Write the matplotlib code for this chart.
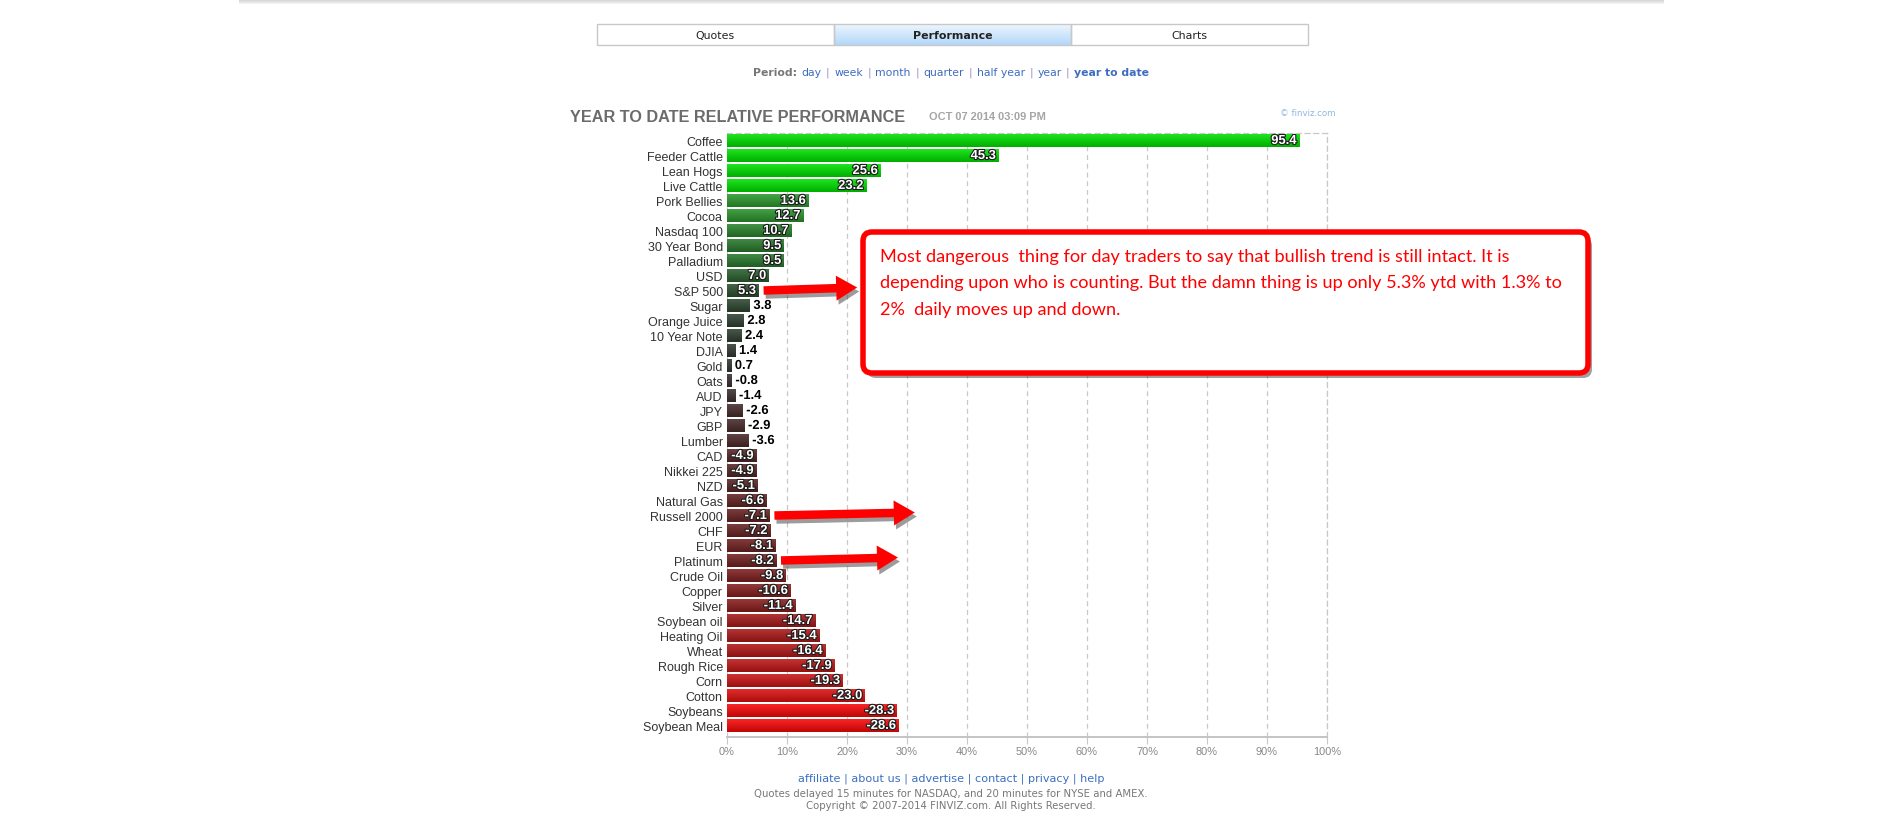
import numpy as np
import matplotlib
matplotlib.use('Agg')
import matplotlib.pyplot as plt
import matplotlib.patheffects as pe
from matplotlib.colors import to_rgb
from matplotlib.patches import Rectangle, FancyBboxPatch, FancyArrow

# ---- data ----
names = ['Coffee', 'Feeder Cattle', 'Lean Hogs', 'Live Cattle', 'Pork Bellies', 'Cocoa',
         'Nasdaq 100', '30 Year Bond', 'Palladium', 'USD', 'S&P 500', 'Sugar',
         'Orange Juice', '10 Year Note', 'DJIA', 'Gold', 'Oats', 'AUD', 'JPY', 'GBP',
         'Lumber', 'CAD', 'Nikkei 225', 'NZD', 'Natural Gas', 'Russell 2000', 'CHF',
         'EUR', 'Platinum', 'Crude Oil', 'Copper', 'Silver', 'Soybean oil',
         'Heating Oil', 'Wheat', 'Rough Rice', 'Corn', 'Cotton', 'Soybeans',
         'Soybean Meal']
values = [95.4, 45.3, 25.6, 23.2, 13.6, 12.7, 10.7, 9.5, 9.5, 7.0, 5.3, 3.8, 2.8, 2.4,
          1.4, 0.7, -0.8, -1.4, -2.6, -2.9, -3.6, -4.9, -4.9, -5.1, -6.6, -7.1, -7.2,
          -8.1, -8.2, -9.8, -10.6, -11.4, -14.7, -15.4, -16.4, -17.9, -19.3, -23.0,
          -28.3, -28.6]
tick_pcts = list(range(0, 101, 10))

tabs = ['Quotes', 'Performance', 'Charts']
periods = ['day', 'week', 'month', 'quarter', 'half year', 'year', 'year to date']
footer_links = ['affiliate', 'about us', 'advertise', 'contact', 'privacy', 'help']

note_lines = [
    'Most dangerous  thing for day traders to say that bullish trend is still intact. It is',
    'depending upon who is counting. But the damn thing is up only 5.3% ytd with 1.3% to',
    '2%  daily moves up and down.',
]
# (row name, where the arrow head points, in % of the axis)
arrows = [('S&P 500', 21.7), ('Russell 2000', 31.3), ('Platinum', 28.5)]

W, H, DPI = 1902, 820, 100
PX = 72.0 / DPI          # points per pixel

# colour scale used by finviz: red <- dark grey -> green
scale = [(-30, '#ff0505'), (-20, '#cf1414'), (-10, '#801e1e'), (-5, '#572525'),
         (0, '#333333'), (5, '#2c4c2f'), (10, '#287e2c'), (14, '#2c9c2e'),
         (22, '#00e000'), (100, '#00e000')]


def bar_color(v):
    xs = [s[0] for s in scale]
    rgb = np.array([to_rgb(s[1]) for s in scale])
    return tuple(np.interp(v, xs, rgb[:, k]) for k in range(3))


def shade(c, f):
    c = np.array(c)
    if f > 0:
        return c + (1 - c) * f
    return c * (1 + f)


fig = plt.figure(figsize=(W / DPI, H / DPI), dpi=DPI)
fig.patch.set_facecolor('white')
renderer = fig.canvas.get_renderer()

# ---- chart ----
X0, X1 = 727, 1327
Y0, Y1 = 134, 738
ROW = 15
ax = fig.add_axes([X0 / W, 1 - Y1 / H, (X1 - X0) / W, (Y1 - Y0) / H])

rows = np.arange(len(names)) + 0.5
mags = np.abs(values)
colors = [bar_color(v) for v in values]
bars = ax.barh(rows, mags, height=13 / 15, color=colors, zorder=3)

grad = np.linspace(0, 1, 32)[:, None, None]
for b, c in zip(bars, colors):
    top, bot = shade(c, 0.12), shade(c, -0.22)
    img = top * (1 - grad) + bot * grad
    x, y, w, h = b.get_x(), b.get_y(), b.get_width(), b.get_height()
    im = ax.imshow(img, extent=[x, x + w, y + h, y], aspect='auto',
                   interpolation='bilinear', zorder=3.5)
    im.set_clip_path(b)

for r, v, m in zip(rows, values, mags):
    lab = f'{v:.1f}'
    if m >= 4.5:
        ax.text(m - 0.45, r + 0.03, lab, ha='right', va='center', color='white',
                fontsize=13 * PX, fontweight='bold', family='Liberation Sans', zorder=5,
                path_effects=[pe.withStroke(linewidth=1.6, foreground='#1c1c1c')])
    else:
        ax.text(m + 0.6, r + 0.03, lab, ha='left', va='center', color='black',
                fontsize=13 * PX, fontweight='bold', family='Liberation Sans', zorder=5,
                path_effects=[pe.withStroke(linewidth=2, foreground='white')])

ax.set_xlim(0, 100)
ax.set_ylim((Y1 - Y0) / ROW, 0)
ax.set_xticks(tick_pcts, [f'{t}%' for t in tick_pcts])
ax.set_yticks(rows, names)
ax.grid(axis='x', color='#c8c8c8', linestyle=(0, (4, 3)), linewidth=0.9)
ax.set_axisbelow(True)
ax.spines['left'].set_visible(False)
ax.spines['bottom'].set_color('#c4c4c4')
ax.spines['bottom'].set_linewidth(1.4)
for s in ('top', 'right'):
    ax.spines[s].set_color('#c8c8c8')
    ax.spines[s].set_linestyle((0, (4, 3)))
    ax.spines[s].set_linewidth(0.9)
ax.tick_params(axis='x', length=5, color='#c8c8c8', labelcolor='#888888',
               labelsize=11 * PX, pad=1.5)
ax.tick_params(axis='y', length=0, labelcolor='#333333', labelsize=12.5 * PX, pad=3)
for t in ax.get_xticklabels() + ax.get_yticklabels():
    t.set_family('Liberation Sans')

# ---- page furniture, drawn in pixel space ----
ov = fig.add_axes([0, 0, 1, 1], zorder=5)
ov.axis('off')

hdr = np.linspace(0, 1, 8)[:, None, None]
ov.imshow(np.array(to_rgb('#cccccc')) * (1 - hdr) + np.array(to_rgb('#f4f4f4')) * hdr,
          extent=[239, 1664, 5, 0], aspect='auto', interpolation='bilinear')

tab_w = 237
for i, t in enumerate(tabs):
    tx = 597 + i * tab_w
    if t == 'Performance':
        g = np.linspace(0, 1, 16)[:, None, None]
        img = np.array(to_rgb('#edf5fe')) * (1 - g) + np.array(to_rgb('#b3d8fa')) * g
        ov.imshow(img, extent=[tx, tx + tab_w, 46, 25], aspect='auto', interpolation='bilinear')
    ov.add_patch(Rectangle((tx, 25), tab_w, 21, fc='none', ec='#c8c8c8', lw=1))
    ov.text(tx + tab_w / 2, 36, t, ha='center', va='center', color='#222222',
            fontsize=11 * PX, family='DejaVu Sans',
            fontweight='bold' if t == 'Performance' else 'normal')
ov.set_xlim(0, W)
ov.set_ylim(H, 0)


def draw_run(pieces, cx, y, size, gap):
    texts = [ov.text(0, y, s, color=c, fontweight=wt, fontsize=size,
                     family='DejaVu Sans', ha='left', va='center') for s, c, wt in pieces]
    widths = [t.get_window_extent(renderer).width for t in texts]
    x = cx - (sum(widths) + gap * (len(widths) - 1)) / 2
    for t, w in zip(texts, widths):
        t.set_x(x)
        x += w + gap


run = [('Period:', '#777777', 'bold')]
for j, p in enumerate(periods):
    if j:
        run.append(('|', '#9a8fc8', 'normal'))
    run.append((p, '#3e6dc0', 'bold' if p == 'year to date' else 'normal'))
draw_run(run, 951, 73, 10.9 * PX, 4.5)

ov.text(570, 118, 'YEAR TO DATE RELATIVE PERFORMANCE', ha='left', va='center',
        color='#6b6b6b', fontsize=16.3 * PX, fontweight='bold', family='Liberation Sans')
ov.text(929, 117, 'OCT 07 2014 03:09 PM', ha='left', va='center', color='#a5a5a5',
        fontsize=11 * PX, fontweight='bold', family='Liberation Sans')
ov.text(1280, 114, '\u00a9 finviz.com', ha='left', va='center', color='#8fb8e0',
        fontsize=8.6 * PX, family='DejaVu Sans')

# callout box
bx, by, bw, bh = 863, 233, 725, 141
ov.add_patch(FancyBboxPatch((bx + 4, by + 5), bw, bh, boxstyle='round,pad=0,rounding_size=9',
                            fc='#505050', ec='none', alpha=0.55))
ov.add_patch(FancyBboxPatch((bx, by), bw, bh, boxstyle='round,pad=0,rounding_size=9',
                            fc='white', ec='#ff0000', lw=5.5 * PX))
note_font = ['Lato', 'DejaVu Sans']
probe = ov.text(0, 0, note_lines[1], fontsize=12, family=note_font)
note_size = 12 * 682 / probe.get_window_extent(renderer).width
probe.remove()
for k, line in enumerate(note_lines):
    ov.text(880, 257 + 26.5 * k, line, ha='left', va='center', color='#ff0000',
            fontsize=note_size, family=note_font)

# arrows from the bars
for name, tip in arrows:
    i = names.index(name)
    xs = X0 + (abs(values[i]) + 0.8) * (X1 - X0) / 100
    xe = X0 + tip * (X1 - X0) / 100
    yc = Y0 + ROW * rows[i]
    for off, fc, al in (((2, 4), '#3a3a3a', 0.5), ((0, 0), '#ff0000', 1)):
        ov.add_patch(FancyArrow(xs + off[0], yc + off[1], xe - xs, -3, width=8.5,
                                head_width=25, head_length=21, length_includes_head=True,
                                fc=fc, ec='none', alpha=al))

ov.text(951, 779, ' | '.join(footer_links), ha='center', va='center', color='#3b6fc2',
        fontsize=11.2 * PX, family='DejaVu Sans')
ov.text(951, 794, 'Quotes delayed 15 minutes for NASDAQ, and 20 minutes for NYSE and AMEX.',
        ha='center', va='center', color='#777777', fontsize=10.1 * PX, family='DejaVu Sans')
ov.text(951, 806, 'Copyright \u00a9 2007-2014 FINVIZ.com. All Rights Reserved.',
        ha='center', va='center', color='#777777', fontsize=10.1 * PX, family='DejaVu Sans')

fig.savefig('out.png', dpi=DPI)
